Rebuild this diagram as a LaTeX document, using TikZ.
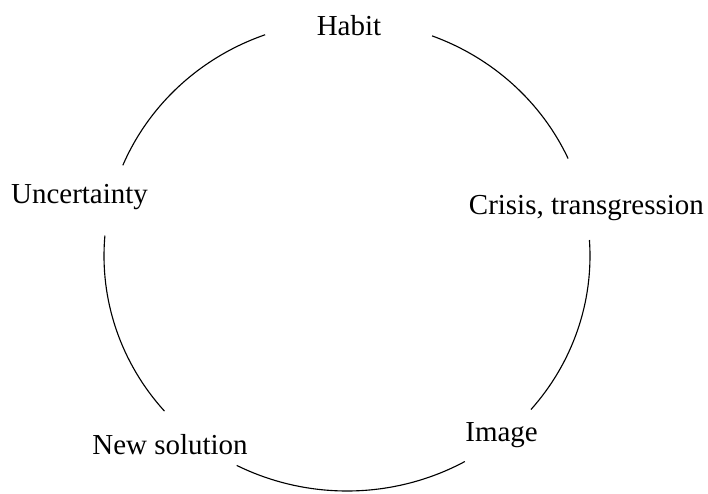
\documentclass[tikz,border=0pt]{standalone}
\usepackage{fontspec}
\setmainfont{Liberation Serif}
\usepackage{xcolor}
\definecolor{cInk}{HTML}{000000}
\usepackage{tikz}
\usetikzlibrary{calc}

\begin{document}
\begin{tikzpicture}[
  every node/.style={font=\fontsize{20.6}{24}\selectfont, text=cInk},
  stage/.style={anchor=base, inner sep=0pt},
  ring/.style={draw=cInk, line width=0.8pt, x radius=6.075, y radius=5.875}
]
\useasboundingbox (0,0) rectangle (17.7,12.325);
\coordinate (ctr) at (8.675,5.925);

% stages round the cycle
\node[stage] (habit)  at (8.725,11.425) {Habit};
\node[stage] (uncert) at (1.988,7.243)  {Uncertainty};
\node[stage] (crisis) at (14.66,6.968)  {Crisis, transgression};
\node[stage] (newsol) at (4.250,0.968)  {New solution};
\node[stage] (image)  at (12.54,1.283)  {Image};

% arc ends
\coordinate (a1) at ($(ctr)+(109.7:6.075 and 5.875)$);
\coordinate (a2) at ($(ctr)+(175.0:6.075 and 5.875)$);
\coordinate (a3) at ($(ctr)+(243.0:6.075 and 5.875)$);
\coordinate (a4) at ($(ctr)+(319.2:6.075 and 5.875)$);
\coordinate (a5) at ($(ctr)+(24.5:6.075 and 5.875)$);

\draw[ring] (a1) arc[start angle=109.7, end angle=157.3];
\draw[ring] (a2) arc[start angle=175.0, end angle=221.3];
\draw[ring] (a3) arc[start angle=243.0, end angle=299.0];
\draw[ring] (a4) arc[start angle=319.2, end angle=363.9];
\draw[ring] (a5) arc[start angle=24.5, end angle=69.5];
\end{tikzpicture}
\end{document}
